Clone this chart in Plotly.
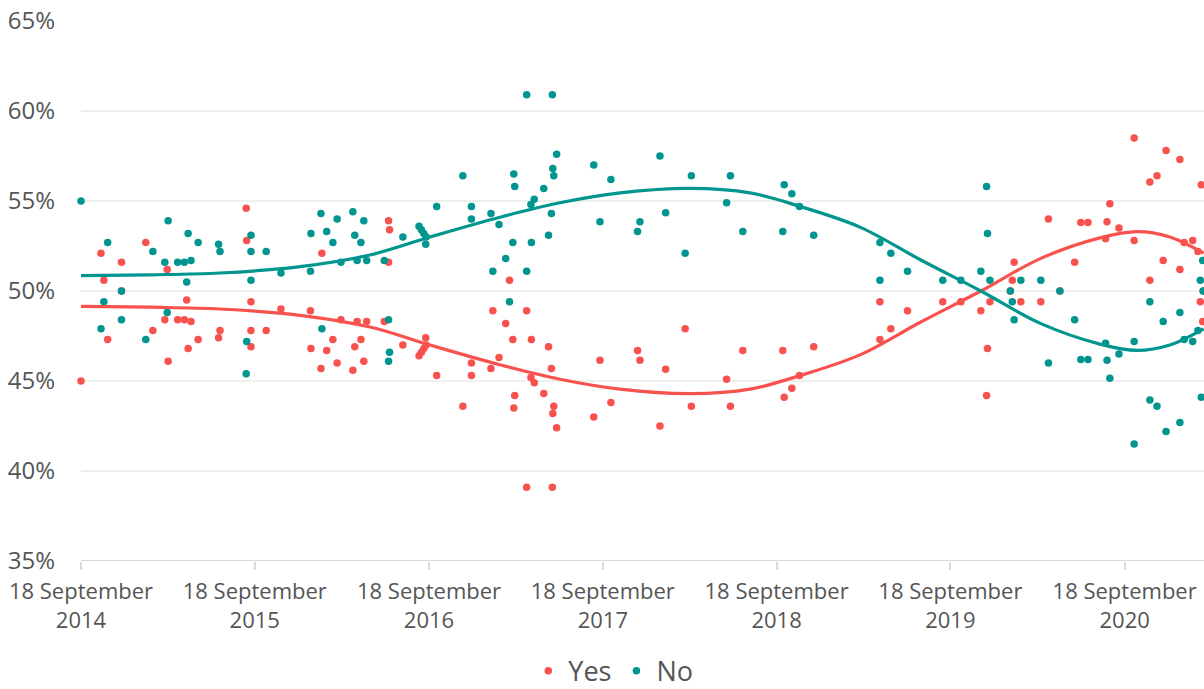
import plotly.graph_objects as go

# ---- poll data ----
poll_dates = [
    "2014-09-18", "2014-10-30", "2014-11-05", "2014-11-13", "2014-12-12", "2014-12-12",
    "2015-02-01", "2015-02-16", "2015-03-13", "2015-03-18", "2015-03-20", "2015-04-09",
    "2015-04-23", "2015-04-28", "2015-05-01", "2015-05-07", "2015-05-22", "2015-07-04",
    "2015-07-07", "2015-08-31", "2015-09-01", "2015-09-10", "2015-09-10", "2015-09-10",
    "2015-10-12", "2015-11-12", "2016-01-13", "2016-01-14", "2016-02-04", "2016-02-06",
    "2016-02-16", "2016-02-29", "2016-03-09", "2016-03-17", "2016-04-11", "2016-04-15",
    "2016-04-20", "2016-04-28", "2016-05-04", "2016-05-10", "2016-06-16", "2016-06-25",
    "2016-06-27", "2016-06-25", "2016-07-25", "2016-08-28", "2016-09-02", "2016-09-07",
    "2016-09-12", "2016-09-11", "2016-10-04", "2016-11-28", "2016-12-16", "2016-12-16",
    "2017-01-26", "2017-01-30", "2017-02-12", "2017-02-26", "2017-03-06", "2017-03-13",
    "2017-03-15", "2017-03-17", "2017-04-11", "2017-04-11", "2017-04-21", "2017-04-20",
    "2017-04-27", "2017-05-17", "2017-05-27", "2017-06-02", "2017-06-05", "2017-06-07",
    "2017-06-13", "2017-06-04", "2017-08-30", "2017-09-12", "2017-10-05", "2017-11-30",
    "2017-12-05", "2018-01-16", "2018-01-28", "2018-03-10", "2018-03-23", "2018-06-05",
    "2018-06-13", "2018-07-09", "2018-10-01", "2018-10-04", "2018-10-20", "2018-11-05",
    "2018-12-05", "2019-04-23", "2019-04-23", "2019-05-16", "2019-06-20", "2019-09-02",
    "2019-10-10", "2019-11-21", "2019-12-03", "2019-12-05", "2019-12-10", "2020-01-22",
    "2020-01-26", "2020-01-30", "2020-02-13", "2020-03-26", "2020-04-11", "2020-05-05",
    "2020-06-05", "2020-06-18", "2020-07-03", "2020-08-09", "2020-08-12", "2020-08-18",
    "2020-09-06", "2020-10-08", "2020-10-08", "2020-11-10", "2020-11-10", "2020-11-25",
    "2020-12-08", "2020-12-14", "2021-01-12", "2021-01-12", "2021-01-21", "2021-02-08",
    "2021-02-19", "2021-02-26", "2021-02-24", "2021-03-01", "2021-03-02",
]
yes_values = [
    45.0, 52.1, 50.6, 47.3, 51.6, 50.0,
    52.7, 47.8, 48.4, 51.2, 46.1, 48.4,
    48.4, 49.5, 46.8, 48.3, 47.3, 47.4,
    47.8, 54.6, 52.8, 46.9, 47.8, 49.4,
    47.8, 49.0, 48.9, 46.8, 45.7, 52.1,
    46.7, 47.3, 46.0, 48.4, 45.6, 46.9,
    48.3, 47.3, 46.1, 48.3, 48.3, 53.9,
    53.4, 51.6, 47.0, 46.4, 46.6, 46.8,
    47.0, 47.4, 45.3, 43.6, 45.3, 46.0,
    45.7, 48.9, 46.3, 48.2, 50.6, 47.3,
    43.5, 44.2, 48.9, 39.1, 47.3, 45.2,
    44.9, 44.3, 46.9, 45.7, 43.2, 43.6,
    42.4, 39.1, 43.0, 46.15, 43.8, 46.7,
    46.15, 42.5, 45.65, 47.9, 43.6, 45.1,
    43.6, 46.7, 46.7, 44.1, 44.6, 45.3,
    46.9, 47.3, 49.4, 47.9, 48.9, 49.4,
    49.4, 48.9, 44.2, 46.8, 49.4, 50.0,
    50.6, 51.6, 49.4, 49.4, 54.0, 50.0,
    51.6, 53.8, 53.8, 52.9, 53.85, 54.85,
    53.5, 52.8, 58.5, 50.6, 56.05, 56.4,
    51.7, 57.8, 51.2, 57.3, 52.7, 52.8,
    52.2, 55.9, 49.4, 48.3, 50.0,
]
no_values = [
    55.0, 47.9, 49.4, 52.7, 48.4, 50.0,
    47.3, 52.2, 51.6, 48.8, 53.9, 51.6,
    51.6, 50.5, 53.2, 51.7, 52.7, 52.6,
    52.2, 45.4, 47.2, 53.1, 52.2, 50.6,
    52.2, 51.0, 51.1, 53.2, 54.3, 47.9,
    53.3, 52.7, 54.0, 51.6, 54.4, 53.1,
    51.7, 52.7, 53.9, 51.7, 51.7, 46.1,
    46.6, 48.4, 53.0, 53.6, 53.4, 53.2,
    53.0, 52.6, 54.7, 56.4, 54.7, 54.0,
    54.3, 51.1, 53.7, 51.8, 49.4, 52.7,
    56.5, 55.8, 51.1, 60.9, 52.7, 54.8,
    55.1, 55.7, 53.1, 54.3, 56.8, 56.4,
    57.6, 60.9, 57.0, 53.85, 56.2, 53.3,
    53.85, 57.5, 54.35, 52.1, 56.4, 54.9,
    56.4, 53.3, 53.3, 55.9, 55.4, 54.7,
    53.1, 52.7, 50.6, 52.1, 51.1, 50.6,
    50.6, 51.1, 55.8, 53.2, 50.6, 50.0,
    49.4, 48.4, 50.6, 50.6, 46.0, 50.0,
    48.4, 46.2, 46.2, 47.1, 46.15, 45.15,
    46.5, 47.2, 41.5, 49.4, 43.95, 43.6,
    48.3, 42.2, 48.8, 42.7, 47.3, 47.2,
    47.8, 44.1, 50.6, 51.7, 50.0,
]

# ---- smoothed trend lines ----
trend_dates = [
    "2014-09-18", "2015-02-10", "2015-07-07", "2015-12-22", "2016-05-17", "2016-09-20",
    "2017-02-14", "2017-06-20", "2017-10-24", "2018-03-20", "2018-07-24", "2018-11-06",
    "2019-03-12", "2019-07-16", "2019-11-21", "2020-03-25", "2020-07-28", "2020-10-14",
    "2020-12-22", "2021-03-03",
]
trend_no = [
    50.85, 50.9, 51.0, 51.35, 52.0, 53.0,
    54.1, 54.9, 55.45, 55.7, 55.45, 54.7,
    53.55, 51.75, 50.0, 48.2, 47.05, 46.7,
    47.0, 47.9,
]
trend_yes = [
    49.15, 49.1, 49.0, 48.65, 48.0, 47.0,
    45.9, 45.1, 44.55, 44.3, 44.55, 45.3,
    46.45, 48.25, 50.0, 51.8, 52.95, 53.3,
    53.0, 52.1,
]

# ---- axis labels ----
x_tick_dates = ["2014-09-18", "2015-09-18", "2016-09-18", "2017-09-18",
                "2018-09-18", "2019-09-18", "2020-09-18"]
x_tick_text = ["18 September<br>2014", "18 September<br>2015", "18 September<br>2016",
               "18 September<br>2017", "18 September<br>2018", "18 September<br>2019",
               "18 September<br>2020"]
y_tick_vals = [35, 40, 45, 50, 55, 60, 65]
y_tick_text = ["35%", "40%", "45%", "50%", "55%", "60%", "65%"]

YES_COLOR = "#F8524F"
NO_COLOR = "#00968F"
FONT = "Open Sans"
TEXT_COLOR = "#555555"

fig = go.Figure()
fig.add_trace(go.Scatter(
    x=poll_dates, y=yes_values, mode="markers", name="Yes",
    marker=dict(color=YES_COLOR, size=7.5, line=dict(width=0)),
    cliponaxis=False,
))
fig.add_trace(go.Scatter(
    x=poll_dates, y=no_values, mode="markers", name="No",
    marker=dict(color=NO_COLOR, size=7.5, line=dict(width=0)),
    cliponaxis=False,
))
fig.add_trace(go.Scatter(
    x=trend_dates, y=trend_yes, mode="lines", showlegend=False,
    line=dict(color=YES_COLOR, width=3.2, shape="spline", smoothing=1.0),
    hoverinfo="skip",
))
fig.add_trace(go.Scatter(
    x=trend_dates, y=trend_no, mode="lines", showlegend=False,
    line=dict(color=NO_COLOR, width=3.2, shape="spline", smoothing=1.0),
    hoverinfo="skip",
))

fig.update_layout(
    width=1204, height=689,
    margin=dict(l=81, r=0, t=21, b=128, autoexpand=False),
    paper_bgcolor="white", plot_bgcolor="white",
    font=dict(family=FONT, color=TEXT_COLOR, size=22),
    showlegend=True,
    legend=dict(
        orientation="h", x=0.474, xanchor="center", y=-0.204, yanchor="middle",
        font=dict(family=FONT, size=27, color=TEXT_COLOR),
        itemsizing="trace", bgcolor="rgba(0,0,0,0)",
    ),
    xaxis=dict(
        type="date",
        range=["2014-09-18", "2021-03-03 17:00"],
        tickmode="array", tickvals=x_tick_dates, ticktext=x_tick_text,
        showgrid=False, zeroline=False, automargin=False,
        showline=False,
        ticks="outside", ticklen=8, tickwidth=2, tickcolor="#d9d9d9",
        ticklabelstandoff=3,
        tickfont=dict(family=FONT, size=22, color=TEXT_COLOR),
    ),
    yaxis=dict(
        range=[35, 65], automargin=False,
        tickmode="array", tickvals=y_tick_vals, ticktext=y_tick_text,
        showgrid=True, gridcolor="#efefef", gridwidth=2,
        zeroline=False, showline=False, ticks="",
        ticklabelstandoff=25,
        tickfont=dict(family=FONT, size=24, color=TEXT_COLOR),
    ),
    shapes=[dict(type="line", xref="paper", yref="y", x0=0, x1=1, y0=35, y1=35,
                 line=dict(color="#d9d9d9", width=2), layer="below")],
)

fig.write_html("out.html", config={"displayModeBar": False},
               post_script="document.body.style.margin='0';")
